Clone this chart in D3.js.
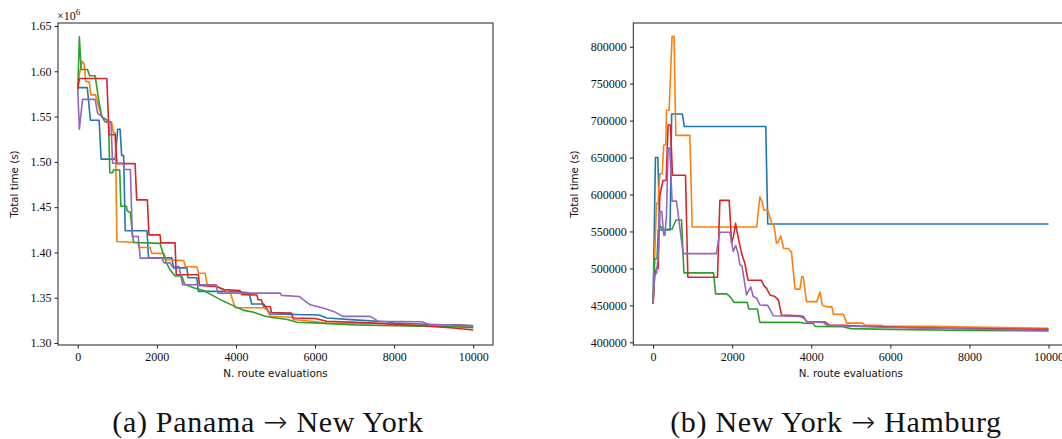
<!DOCTYPE html>
<html>
<head>
<meta charset="utf-8">
<script src="https://cdn.jsdelivr.net/npm/d3@7"></script>
<style>
  html, body { margin: 0; padding: 0; background: #fff; }
  svg { display: block; }
</style>
</head>
<body>
<svg id="fig" width="1062" height="439"></svg>
<script>
// Best route time found so far vs. number of route evaluations, five runs per crossing.
const runColors = ["#1f77b4", "#ff7f0e", "#2ca02c", "#d62728", "#9467bd"];
const evalTicks = [0, 2000, 4000, 6000, 8000, 10000];

// Panama -> New York, values in units of 10^6 s
const panamaTicks = [1.30, 1.35, 1.40, 1.45, 1.50, 1.55, 1.60, 1.65];
const panamaRun1 = [[0,1.582],[240,1.582],[320,1.546],[540,1.546],[590,1.503],[945,1.503],[1010,1.536],[1070,1.536],[1110,1.507],[1160,1.507],[1200,1.424],[1750,1.424],[1790,1.394],[2380,1.394],[2420,1.383],[2760,1.383],[2790,1.372],[3010,1.372],[3050,1.357],[3940,1.357],[4330,1.3555],[4400,1.343],[4700,1.343],[4870,1.332],[6100,1.331],[6300,1.3276],[7000,1.3255],[7800,1.3235],[8000,1.322],[9000,1.3205],[10000,1.3192]];
const panamaRun2 = [[0,1.580],[40,1.597],[110,1.611],[160,1.608],[200,1.589],[290,1.588],[330,1.574],[450,1.574],[540,1.559],[610,1.550],[690,1.544],[860,1.543],[900,1.532],[950,1.532],[990,1.412],[1520,1.411],[1550,1.4055],[1830,1.4055],[1870,1.399],[2170,1.399],[2250,1.392],[2680,1.391],[2720,1.3845],[3010,1.384],[3060,1.377],[3220,1.377],[3265,1.366],[3350,1.3625],[3520,1.3625],[3690,1.3588],[3860,1.3551],[3980,1.339],[4700,1.339],[4780,1.3365],[4870,1.3295],[5400,1.3285],[5460,1.326],[5900,1.324],[6300,1.322],[7800,1.3215],[8000,1.320],[9000,1.319],[10000,1.318]];
const panamaRun3 = [[0,1.580],[40,1.638],[85,1.602],[245,1.602],[300,1.595],[440,1.595],[540,1.565],[610,1.550],[740,1.546],[776,1.546],[810,1.488],[880,1.488],[900,1.491],[1060,1.491],[1090,1.451],[1230,1.451],[1250,1.446],[1330,1.444],[1370,1.425],[1410,1.411],[2080,1.410],[2150,1.400],[2250,1.388],[2330,1.381],[2460,1.374],[2630,1.374],[2700,1.365],[2930,1.361],[3180,1.358],[3430,1.352],[3690,1.346],[3940,1.341],[4200,1.336],[4450,1.334],[4700,1.330],[4870,1.3285],[5300,1.326],[5550,1.323],[6100,1.322],[7000,1.320],[8000,1.319],[8700,1.3185],[9500,1.318],[10000,1.317]];
const panamaRun4 = [[0,1.580],[40,1.592],[735,1.592],[790,1.530],[945,1.530],[990,1.498],[1450,1.498],[1490,1.458],[1760,1.458],[1800,1.4194],[2080,1.4194],[2100,1.4105],[2460,1.4105],[2490,1.3753],[3050,1.3753],[3080,1.3635],[3500,1.3625],[3700,1.359],[4100,1.358],[4150,1.3534],[4530,1.353],[4560,1.3478],[4640,1.3478],[4700,1.3405],[4870,1.340],[4900,1.3335],[5400,1.333],[5450,1.3276],[6000,1.327],[6300,1.324],[7200,1.3225],[7500,1.322],[8100,1.3205],[8900,1.3185],[9500,1.3165],[10000,1.3143]];
const panamaRun5 = [[0,1.580],[40,1.536],[120,1.569],[440,1.569],[500,1.5537],[610,1.550],[690,1.5444],[840,1.5444],[880,1.4985],[1150,1.4985],[1170,1.4915],[1330,1.4915],[1380,1.4176],[1530,1.4176],[1580,1.3937],[2130,1.3937],[2180,1.3885],[2340,1.3885],[2380,1.3845],[2560,1.3845],[2650,1.3643],[3500,1.3643],[3540,1.3551],[5120,1.3551],[5150,1.3526],[5600,1.3514],[5700,1.348],[5880,1.3422],[6200,1.3386],[6470,1.3349],[6700,1.3294],[7400,1.3294],[7600,1.3239],[8700,1.3235],[8900,1.3202],[9700,1.3202],[10000,1.3185]];

// New York -> Hamburg, values in s
const hamburgTicks = [400000, 450000, 500000, 550000, 600000, 650000, 700000, 750000, 800000];
const hamburgRun1 = [[0,452000],[60,650000],[120,650000],[170,552000],[430,552000],[470,709000],[740,709000],[790,692000],[2850,692000],[2900,560000],[10000,560000]];
const hamburgRun2 = [[0,452000],[40,516000],[85,588000],[125,588000],[170,628000],[230,628000],[270,667000],[320,667000],[340,714000],[405,714000],[480,814000],[530,814000],[575,680000],[930,680000],[990,556000],[2620,556000],[2700,597000],[2760,590000],[2800,579000],[2900,579000],[3000,561000],[3060,558000],[3120,534000],[3170,536000],[3230,544000],[3300,527000],[3420,527000],[3500,522000],[3590,472000],[3714,472000],[3760,489000],[3800,488000],[3880,455000],[4140,455000],[4221,468000],[4280,450000],[4390,448000],[4520,448000],[4560,438000],[4810,438000],[4900,426000],[5300,426000],[5350,423500],[5760,423000],[5850,422000],[7000,421500],[8000,420500],[10000,419000]];
const hamburgRun3 = [[0,452000],[40,513000],[100,513000],[130,552000],[170,558000],[250,553000],[480,553000],[580,565500],[720,565500],[780,494000],[1530,494000],[1580,465500],[1860,465500],[1940,462000],[2000,458000],[2040,454000],[2380,454000],[2420,445000],[2640,445000],[2700,427000],[3700,427000],[3800,426000],[4050,425500],[4100,421500],[4800,421000],[5000,418500],[6000,417500],[8000,416000],[10000,415500]];
const hamburgRun4 = [[0,452000],[40,489000],[85,500000],[130,500000],[170,599000],[250,619000],[330,619000],[380,694000],[440,694000],[490,626000],[820,626000],[880,488000],[1630,488000],[1689,592000],[1925,592000],[1985,534000],[2040,545000],[2085,561000],[2130,548000],[2180,535000],[2240,520000],[2320,507000],[2400,484000],[2740,484000],[2800,477000],[2870,473000],[2955,464000],[3080,462000],[3170,457000],[3250,437000],[3714,436000],[3800,435000],[3880,428000],[4350,427500],[4450,423500],[4800,423000],[5200,422000],[6500,420000],[8000,418500],[10000,417500]];
const hamburgRun5 = [[0,452000],[40,493000],[85,493000],[130,518000],[170,577000],[220,577000],[270,545000],[300,545000],[340,572000],[380,663000],[422,663000],[480,591000],[590,591000],[620,580000],[760,520000],[1600,520000],[1689,549000],[1942,549000],[2026,523000],[2090,531000],[2150,520000],[2195,505000],[2250,503000],[2364,464000],[2420,470000],[2469,475000],[2532,462000],[2617,460000],[2700,450500],[2900,450000],[3040,436000],[3714,435000],[3800,433000],[3900,428000],[4300,427000],[4400,423000],[4800,422000],[6000,420000],[8000,418000],[10000,416000]];

const svg = d3.select("#fig");
const tickFont = "'Liberation Serif', 'DejaVu Serif', serif";
const labelFont = "'DejaVu Sans', sans-serif";

function drawPanel(cfg) {
  const x = d3.scaleLinear().domain([-500, 10500]).range([cfg.left, cfg.left + 435]);
  const y = d3.scaleLinear().domain(cfg.yDomain).range([345, 23]);
  const g = svg.append("g");

  const clipId = "clip-" + cfg.id;
  g.append("clipPath").attr("id", clipId)
    .append("rect").attr("x", x.range()[0]).attr("y", 23)
    .attr("width", 435).attr("height", 322);

  const line = d3.line().x(d => x(d[0])).y(d => y(d[1]));
  const runs = g.append("g").attr("clip-path", `url(#${clipId})`);
  cfg.runs.forEach((run, i) => {
    runs.append("path").datum(run)
      .attr("d", line)
      .attr("fill", "none")
      .attr("stroke", runColors[i])
      .attr("stroke-width", 1.6)
      .attr("stroke-linejoin", "round");
  });

  // frame
  g.append("rect")
    .attr("x", x.range()[0]).attr("y", 23)
    .attr("width", 435).attr("height", 322)
    .attr("fill", "none").attr("stroke", "#222").attr("stroke-width", 1);

  const xAxis = g.append("g").attr("transform", "translate(0,345)")
    .call(d3.axisBottom(x).tickValues(evalTicks).tickSize(3.5).tickPadding(4).tickFormat(d3.format("d")));
  const yAxis = g.append("g").attr("transform", `translate(${x.range()[0]},0)`)
    .call(d3.axisLeft(y).tickValues(cfg.yTicks).tickSize(3.5).tickPadding(3).tickFormat(cfg.yFormat));
  [xAxis, yAxis].forEach(a => {
    a.select(".domain").remove();
    a.selectAll(".tick line").attr("stroke", "#222").attr("stroke-width", 1);
    a.selectAll(".tick text").attr("fill", "#111")
      .style("font-family", tickFont).style("font-size", "12px");
  });

  g.append("text")
    .attr("x", x.range()[0] + 217.5).attr("y", 377)
    .attr("text-anchor", "middle")
    .style("font-family", labelFont).style("font-size", "10.3px").attr("fill", "#111")
    .text("N. route evaluations");

  g.append("text")
    .attr("transform", `translate(${cfg.yLabelX},184) rotate(-90)`)
    .attr("text-anchor", "middle")
    .style("font-family", labelFont).style("font-size", "10.3px").attr("fill", "#111")
    .text("Total time (s)");

  // sub-figure caption: "(x) From → To"
  const cap = g.append("text")
    .attr("x", cfg.captionX).attr("y", 432)
    .attr("text-anchor", "middle")
    .style("font-family", tickFont).style("font-size", "30px")
    .style("letter-spacing", "0.7px").attr("fill", "#111");
  cap.append("tspan").text(cfg.caption[0] + " ");
  cap.append("tspan").style("font-family", "'DejaVu Sans', sans-serif")
    .style("font-size", "29px").style("font-weight", "200").text("\u2192");
  cap.append("tspan").text(" " + cfg.caption[1]);

  return { x, y, g };
}

const left = drawPanel({
  id: "panama", left: 58,
  yDomain: [1.2978, 1.6533], yTicks: panamaTicks, yFormat: d3.format(".2f"),
  runs: [panamaRun1, panamaRun2, panamaRun3, panamaRun4, panamaRun5],
  yLabelX: 18, captionX: 268, caption: ["(a) Panama", "New York"]
});

// scale factor of the left y axis
const offset = left.g.append("text")
  .attr("x", 57).attr("y", 20)
  .style("font-family", tickFont).style("font-size", "12px").attr("fill", "#111");
offset.append("tspan").text("\u00d710");
offset.append("tspan").attr("dy", -5).style("font-size", "9px").text("6");

drawPanel({
  id: "hamburg", left: 633.3,
  yDomain: [396350, 832070], yTicks: hamburgTicks, yFormat: d3.format("d"),
  runs: [hamburgRun1, hamburgRun2, hamburgRun3, hamburgRun4, hamburgRun5],
  yLabelX: 578, captionX: 836, caption: ["(b) New York", "Hamburg"]
});
</script>
</body>
</html>
